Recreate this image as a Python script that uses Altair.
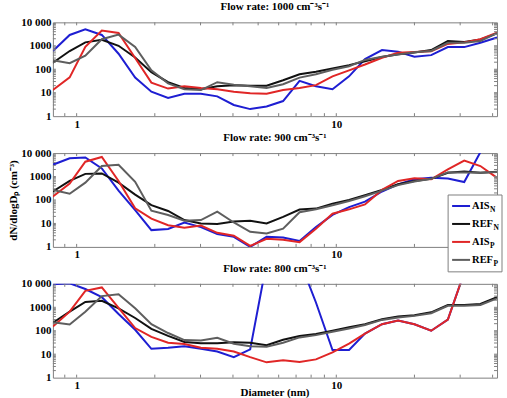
import altair as alt
import pandas as pd

# Particle diameter grid (nm), shared by every series
diameter_nm = [0.81, 0.94, 1.08, 1.25, 1.45, 1.68, 1.94, 2.25, 2.60, 3.01, 3.48, 4.03, 4.66, 5.39,
               6.24, 7.22, 8.35, 9.67, 11.2, 12.9, 15.0, 17.3, 20.0, 23.2, 26.9, 31.1, 35.9, 41.6]

# dN/dlogDp (cm^-3) at a flow rate of 1000 cm^-3 s^-1
ais_n_1000 = [600, 2900, 5000, 2900, 460, 44, 11, 6, 9, 9, 7, 3, 2, 2.6,
              4.4, 32, 19, 14, 50, 270, 660, 560, 340, 400, 880, 880, 1350, 2250]
ref_n_1000 = [190, 600, 1400, 1800, 1000, 320, 75, 28, 16, 14, 19, 21, 20, 20,
              34, 61, 78, 108, 150, 220, 330, 440, 520, 660, 1600, 1450, 1850, 3400]
ais_p_1000 = [13, 45, 900, 4500, 3500, 300, 27, 15, 19, 16, 14, 11, 9.5, 9,
              13, 16, 21, 50, 90, 160, 310, 500, 550, 580, 1200, 1400, 1900, 3600]
ref_p_1000 = [240, 180, 380, 1900, 3000, 900, 90, 25, 14, 13, 28, 22, 19, 16,
              23, 44, 61, 95, 135, 250, 340, 430, 530, 600, 1350, 1350, 1600, 3500]

# Flow rate 900 cm^-3 s^-1
ais_n_900 = [3200, 6000, 6500, 2200, 250, 37, 5.2, 5.8, 11, 7, 3.5, 2.7, 1.0, 2.7,
             2.5, 1.8, 7, 23, 50, 85, 230, 460, 760, 880, 820, 580, 11000, 60000]
ref_n_900 = [230, 650, 1300, 1350, 550, 170, 60, 34, 14, 10, 9.5, 12, 13, 10,
             19, 39, 43, 70, 100, 160, 270, 470, 650, 800, 1450, 1650, 1450, 1600]
ais_p_900 = [140, 500, 4300, 6800, 650, 44, 16, 8.4, 6.6, 8.2, 4, 3, 1.1, 2.2,
             2.0, 1.6, 6, 26, 40, 65, 270, 650, 850, 760, 2000, 4800, 2800, 880]
ref_p_900 = [270, 185, 550, 2800, 3200, 600, 35, 23, 13, 14, 32, 11, 4.4, 3.7,
             6, 30, 40, 60, 90, 145, 250, 430, 620, 800, 1500, 1500, 1450, 1550]

# Flow rate 800 cm^-3 s^-1
ais_n_800 = [9500, 10500, 6000, 2700, 520, 110, 17, 19, 22, 17, 13, 7.5, 16, 80000,
             100000, 100000, 1600, 15, 15, 75, 190, 270, 190, 100, 300, 30000, 100000, 100000]
ref_n_800 = [220, 650, 1700, 1900, 900, 350, 120, 60, 33, 29, 29, 32, 31, 24,
             41, 60, 72, 100, 140, 190, 310, 410, 460, 610, 1250, 1250, 1380, 2700]
ais_p_800 = [150, 650, 5000, 7000, 950, 130, 55, 31, 27, 19, 17, 13, 7.5, 4.5,
             5.5, 4.7, 6, 12, 28, 75, 190, 270, 190, 100, 300, 30000, 100000, 100000]
ref_p_800 = [230, 185, 650, 3000, 3600, 900, 190, 80, 40, 38, 50, 28, 22, 21,
             31, 52, 65, 90, 125, 175, 290, 370, 430, 560, 1150, 1150, 1250, 2400]

flow_rates = [1000, 900, 800]
panel_series = {
    1000: [ais_n_1000, ref_n_1000, ais_p_1000, ref_p_1000],
    900: [ais_n_900, ref_n_900, ais_p_900, ref_p_900],
    800: [ais_n_800, ref_n_800, ais_p_800, ref_p_800],
}
series_colors = ["#1e1ed2", "#111111", "#e02626", "#5e5e5e"]
legend_main = ["AIS", "REF", "AIS", "REF"]
legend_sub = ["N", "N", "P", "P"]

x_tick_labels = [1, 10]
y_tick_labels = [1, 10, 100, 1000, 10000]
x_tick_marks = [0.9, 1, 2, 3, 4, 5, 6, 7, 8, 9, 10, 20, 30, 40]
y_tick_marks = [2, 3, 4, 5, 6, 7, 8, 9, 10, 20, 30, 40, 50, 60, 70, 80, 90, 100,
                200, 300, 400, 500, 600, 700, 800, 900, 1000,
                2000, 3000, 4000, 5000, 6000, 7000, 8000, 9000]

FONT = "Liberation Serif"
FRAME = "#808080"
W, H = 445, 94
TICK = 3

x_scale = alt.Scale(type="log", domain=[0.81, 41.6], nice=False)
y_scale = alt.Scale(type="log", domain=[1, 10000], nice=False)


def make_panel(idx, rate):
    x_axis = alt.Axis(values=x_tick_labels, format="d", labelPadding=2, labelFlush=False,
                      tickSize=0, title=None)
    y_axis = alt.Axis(values=y_tick_labels, labelPadding=2,
                      labelExpr="datum.value >= 10000 ? '10 000' : format(datum.value, 'd')",
                      title="dN/dlogDₚ (cm⁻³)" if idx == 1 else None, titlePadding=2)
    layers = []
    for color, vals in zip(series_colors, panel_series[rate]):
        df = pd.DataFrame({"diameter": diameter_nm, "conc": vals})
        layers.append(
            alt.Chart(df).mark_line(color=color, strokeWidth=2, clip=True).encode(
                x=alt.X("diameter:Q", scale=x_scale, axis=x_axis),
                y=alt.Y("conc:Q", scale=y_scale, axis=y_axis),
            )
        )

    # inward tick marks on all four sides of the frame
    xt = pd.DataFrame({"t": x_tick_marks})
    yt = pd.DataFrame({"t": y_tick_marks})
    xt_enc = alt.X("t:Q", scale=x_scale, axis=x_axis)
    yt_enc = alt.Y("t:Q", scale=y_scale, axis=y_axis)
    rule = dict(color=FRAME, strokeWidth=1)
    layers += [
        alt.Chart(xt).mark_rule(**rule).encode(x=xt_enc, y=alt.value(0), y2=alt.value(TICK)),
        alt.Chart(xt).mark_rule(**rule).encode(x=xt_enc, y=alt.value(H - TICK), y2=alt.value(H)),
        alt.Chart(yt).mark_rule(**rule).encode(y=yt_enc, x=alt.value(0), x2=alt.value(TICK)),
        alt.Chart(yt).mark_rule(**rule).encode(y=yt_enc, x=alt.value(W - TICK), x2=alt.value(W)),
    ]

    one = pd.DataFrame({"k": [0]})
    if idx == 1:
        # legend box with subscripted labels
        layers.append(
            alt.Chart(one).mark_rect(fill="white", stroke=FRAME, strokeWidth=1).encode(
                x=alt.value(W - 49), x2=alt.value(W + 5), y=alt.value(42), y2=alt.value(119)
            )
        )
        for i, (main, sub, color) in enumerate(zip(legend_main, legend_sub, series_colors)):
            row_y = 53 + 18 * i
            main_w = 17.5 if main == "AIS" else 21
            layers.append(
                alt.Chart(one).mark_rule(color=color, strokeWidth=2).encode(
                    x=alt.value(W - 45), x2=alt.value(W - 27), y=alt.value(row_y)
                )
            )
            layers.append(
                alt.Chart(one).mark_text(font=FONT, fontWeight="bold", fontSize=10.5,
                                         align="left", baseline="middle", color="black").encode(
                    x=alt.value(W - 25), y=alt.value(row_y), text=alt.value(main)
                )
            )
            layers.append(
                alt.Chart(one).mark_text(font=FONT, fontWeight="bold", fontSize=7.5,
                                         align="left", baseline="middle", color="black").encode(
                    x=alt.value(W - 25 + main_w + 0.5), y=alt.value(row_y + 4), text=alt.value(sub)
                )
            )
    if idx == 2:
        # x-axis title under the bottom panel
        layers.append(
            alt.Chart(one).mark_text(font=FONT, fontWeight="bold", fontSize=11,
                                     align="center", baseline="middle", color="black").encode(
                x=alt.value(W / 2), y=alt.value(H + 15), text=alt.value("Diameter (nm)")
            )
        )

    title = alt.TitleParams(text=f"Flow rate: {rate} cm⁻³s⁻¹", font=FONT, fontSize=11,
                            fontWeight="bold", color="black", anchor="middle", offset=4)
    return alt.layer(*layers).properties(width=W, height=H, title=title)


panels = [make_panel(i, r) for i, r in enumerate(flow_rates)]

chart = (
    alt.vconcat(*panels, spacing=37, bounds="flush")
    .properties(padding={"left": 7, "top": 0, "right": 4, "bottom": 0},
                autosize=alt.AutoSizeParams(type="pad"))
    .configure_view(stroke=FRAME, strokeWidth=1)
    .configure_axis(labelFont=FONT, labelFontSize=11, labelFontWeight="bold", labelColor="black",
                    titleFont=FONT, titleFontSize=11, titleFontWeight="bold", titleColor="black",
                    grid=False, domain=False, ticks=False)
)

chart.save("out.html", embed_options={"renderer": "svg", "actions": False})
